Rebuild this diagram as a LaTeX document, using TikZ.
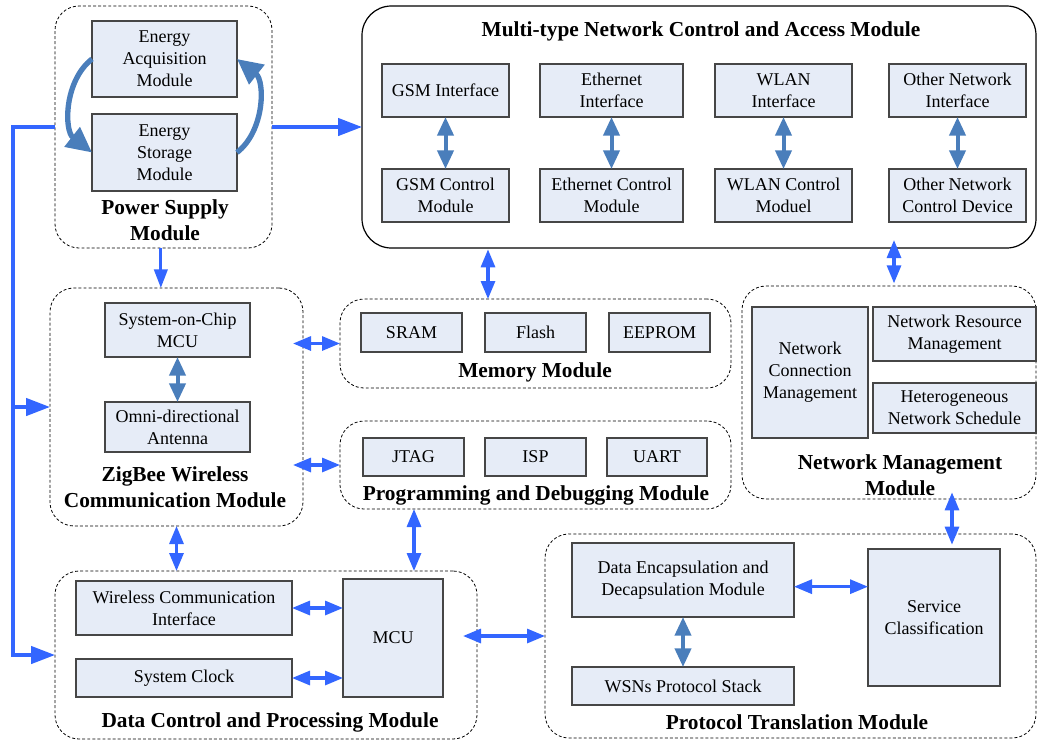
\documentclass[tikz,border=0pt]{standalone}
\usepackage{fontspec}
\setmainfont{Liberation Serif}
\usetikzlibrary{arrows.meta,calc}
\definecolor{boxfill}{RGB}{230,236,247}
\definecolor{boxline}{RGB}{70,70,70}
\definecolor{linkblue}{RGB}{51,102,255}
\definecolor{steelblue}{RGB}{74,126,187}
\tikzset{
  % place a node so that it covers the rectangle (x1,y1)-(x2,y2), in pixel units
  span/.style n args={4}{at={({(#1+#3)/2},{(#2+#4)/2})},
      minimum width={(#3-#1)*0.75pt}, minimum height={(#4-#2)*0.75pt}},
  modbox/.style={draw, dash pattern=on 2.2pt off 1.6pt, line width=0.6pt, rounded corners=18pt,
              inner sep=0pt, outer sep=0pt},
  mainmod/.style={draw, line width=0.9pt, rounded corners=22pt, inner sep=0pt, outer sep=0pt},
  blk/.style={draw=boxline, fill=boxfill, line width=1pt, inner sep=0pt, outer sep=0pt, align=center,
              font=\fontsize{13.5}{16.5}\selectfont},
  ttl/.style={align=center, inner sep=0pt, font=\fontsize{16}{19.5}\selectfont\bfseries},
  biarrow/.style={draw=linkblue, line width=2.3pt,
              {Triangle[length=13.5pt,width=10.5pt]}-{Triangle[length=13.5pt,width=10.5pt]}},
  intarrow/.style={draw=steelblue, line width=3pt,
              {Triangle[length=14pt,width=12pt]}-{Triangle[length=14pt,width=12pt]}},
  busline/.style={draw=linkblue, line width=2.6pt},
  busarrow/.style={busline, -{Triangle[length=18pt,width=13pt]}},
  oneway/.style={draw=linkblue, line width=2.3pt, -{Triangle[length=14pt,width=10pt]}},
  energyflow/.style={draw=steelblue, line width=4pt, -{Triangle[length=19pt,width=18pt]}},
}
\begin{document}
\begin{tikzpicture}[x=0.75pt,y=-0.75pt]
\useasboundingbox (0,0) rectangle (1038,740);

% ---------- module frames ----------
\node[modbox, span={55}{6}{272}{248}] (pwr) {};
\node[mainmod, span={362}{6}{1036}{248}] (multi) {};
\node[modbox, span={50}{288}{303}{526}] (zig) {};
\node[modbox, span={340}{299}{731}{388}] (mem) {};
\node[modbox, span={340}{421}{731}{509}] (prog) {};
\node[modbox, span={742}{286}{1036}{499}] (netm) {};
\node[modbox, span={55}{571}{477}{739}] (data) {};
\node[modbox, span={545}{534}{1036}{738}] (proto) {};

% ---------- module titles ----------
\node[ttl] (pwrT) at (165,220) {Power Supply\\Module};
\node[ttl] (multiT) at (701,31) {Multi-type Network Control and Access Module};
\node[ttl] (zigT) at (175,487) {ZigBee Wireless\\Communication Module};
\node[ttl] (memT) at (535,372) {Memory Module};
\node[ttl] (progT) at (536,495) {Programming and Debugging Module};
\node[ttl] (netmT) at (900,475) {Network Management\\Module};
\node[ttl] (dataT) at (270,722) {Data Control and Processing Module};
\node[ttl] (protoT) at (797,722) {Protocol Translation Module};

% ---------- power supply ----------
\node[blk, span={92}{21}{237}{97}] (acq) {Energy\\Acquisition\\Module};
\node[blk, span={92}{114}{237}{191}] (sto) {Energy\\Storage\\Module};

% ---------- network access ----------
\node[blk, span={382}{64}{509}{117}] (gsmI) {GSM Interface};
\node[blk, span={382}{169}{509}{222}] (gsmC) {GSM Control\\Module};
\node[blk, span={540}{64}{683}{117}] (ethI) {Ethernet\\Interface};
\node[blk, span={540}{169}{683}{222}] (ethC) {Ethernet Control\\Module};
\node[blk, span={715}{64}{852}{117}] (wlanI) {WLAN\\Interface};
\node[blk, span={715}{169}{852}{222}] (wlanC) {WLAN Control\\Moduel};
\node[blk, span={889}{64}{1026}{117}] (othI) {Other Network\\Interface};
\node[blk, span={889}{169}{1026}{222}] (othC) {Other Network\\Control Device};

% ---------- ZigBee ----------
\node[blk, span={105}{303}{250}{357}] (soc) {System-on-Chip\\MCU};
\node[blk, span={105}{402}{250}{452}] (omni) {Omni-directional\\Antenna};

% ---------- memory / programming ----------
\node[blk, span={361}{313}{462}{352}] (sram) {SRAM};
\node[blk, span={485}{313}{586}{352}] (flash) {Flash};
\node[blk, span={609}{313}{710}{352}] (eeprom) {EEPROM};
\node[blk, span={363}{438}{464}{476}] (jtag) {JTAG};
\node[blk, span={485}{438}{586}{476}] (isp) {ISP};
\node[blk, span={607}{438}{707}{476}] (uart) {UART};

% ---------- network management ----------
\node[blk, span={752}{307}{868}{438}] (ncm) {Network\\Connection\\Management};
\node[blk, span={873}{307}{1036}{361}] (nrm) {Network Resource\\Management};
\node[blk, span={873}{383}{1036}{433}] (hns) {Heterogeneous\\Network Schedule};

% ---------- data control ----------
\node[blk, span={76}{581}{292}{635}] (wci) {Wireless Communication\\Interface};
\node[blk, span={76}{659}{292}{697}] (clk) {System Clock};
\node[blk, span={343}{579}{443}{697}] (mcu) {MCU};

% ---------- protocol translation ----------
\node[blk, span={572}{543}{794}{617}] (denc) {Data Encapsulation and\\Decapsulation Module};
\node[blk, span={572}{667}{794}{705}] (wsn) {WSNs Protocol Stack};
\node[blk, span={868}{549}{1000}{686}] (svc) {Service\\Classification};

% ---------- energy cycle ----------
\draw[energyflow] (acq.west) .. controls +(-28,22) and +(-28,-22) .. (sto.west);
\draw[energyflow] (sto.east) .. controls +(28,-22) and +(28,22) .. (acq.east);

% ---------- power bus ----------
\coordinate (busTop) at (13,127);
\coordinate (busMid) at (13,407);
\coordinate (busBot) at (13,655);
\draw[busarrow] (pwr.west) -- (busTop) -- (busBot) -- (data.west);
\draw[busarrow] (busMid) -- (zig.west);
\draw[busarrow] (pwr.east) -- (multi.west);
\coordinate (pdrop) at ([xshift=-2pt]pwr.south);
\draw[oneway] (pdrop) -- (pdrop |- zig.north);

% ---------- links between modules ----------
\coordinate (xMem) at (488,0);
\coordinate (xNet) at (894,0);
\coordinate (xProg) at (414,0);
\coordinate (xPro) at (952,0);
\draw[biarrow, shorten <=1pt] (multi.south -| xMem) -- (mem.north -| xMem);
\draw[biarrow, shorten <=-6pt, shorten >=2pt] (multi.south -| xNet) -- (netm.north -| xNet);
\draw[biarrow, shorten <=-7.5pt] (zig.east |- mem.west) -- (mem.west);
\draw[biarrow, shorten <=-7.5pt] (zig.east |- prog.west) -- (prog.west);
\draw[biarrow] (zig.south) -- (data.north -| zig.south);
\draw[biarrow] (prog.south -| xProg) -- (data.north -| xProg);
\draw[biarrow, shorten <=-5pt, shorten >=-8pt] (netm.south -| xPro) -- (proto.north -| xPro);
\draw[biarrow, shorten <=-10.5pt] (data.east |- proto.west) -- (proto.west);

% ---------- links inside modules ----------
\draw[biarrow] (wci.east) -- (wci.east -| mcu.west);
\draw[biarrow] (clk.east) -- (clk.east -| mcu.west);
\coordinate (dencR) at ([yshift=-5pt]denc.east);
\draw[biarrow] (dencR) -- (dencR -| svc.west);

\draw[intarrow] (gsmI.south) -- (gsmC.north);
\draw[intarrow] (ethI.south) -- (ethC.north);
\draw[intarrow] (wlanI.south) -- (wlanC.north);
\draw[intarrow] (othI.south) -- (othC.north);
\draw[intarrow] (soc.south) -- (omni.north);
\draw[intarrow] (denc.south) -- (wsn.north);
\end{tikzpicture}
\end{document}
